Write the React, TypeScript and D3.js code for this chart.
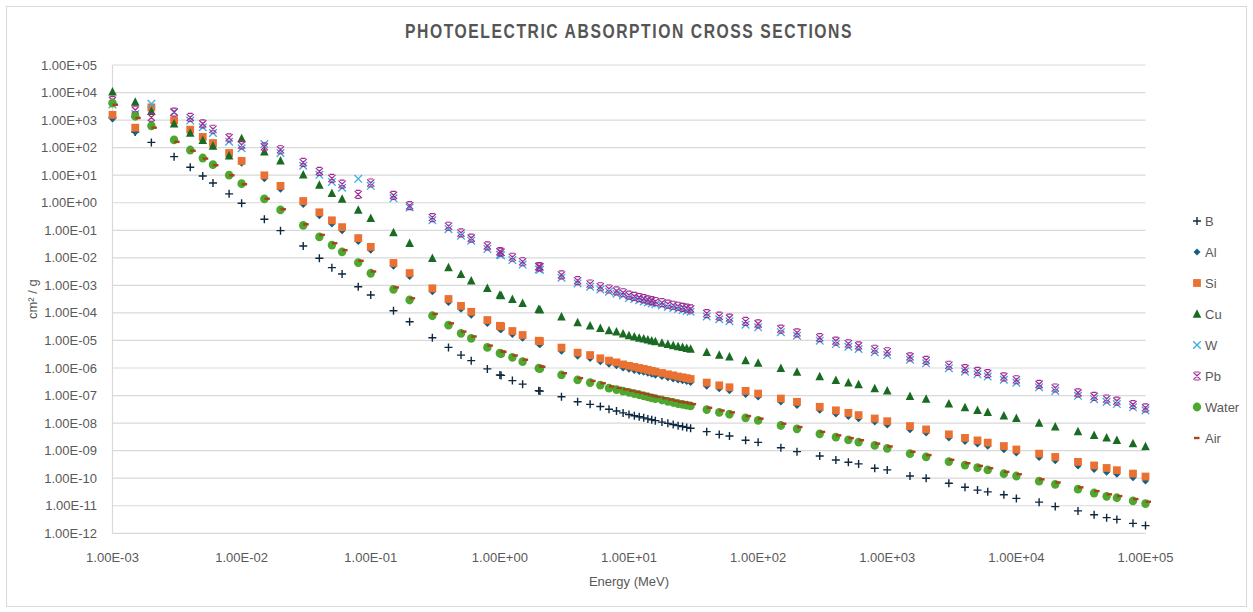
import React from "react";
import * as d3 from "d3";

// photon energy grid (MeV)
const energies = [
  1e-3, 1.5e-3, 2e-3, 3e-3, 4e-3, 5e-3, 6e-3, 8e-3, 1e-2, 1.5e-2,
  2e-2, 3e-2, 4e-2, 5e-2, 6e-2, 8e-2, 0.1, 0.15, 0.2, 0.3,
  0.4, 0.5, 0.6, 0.8, 1, 1.022, 1.25, 1.5, 2, 2.044,
  3, 4, 5, 6, 7, 8, 9, 10, 11, 12,
  13, 14, 15, 16, 18, 20, 22, 24, 26, 28,
  30, 40, 50, 60, 80, 100, 150, 200, 300, 400,
  500, 600, 800, 1000, 1500, 2000, 3000, 4000, 5000, 6000,
  8000, 1e4, 1.5e4, 2e4, 3e4, 4e4, 5e4, 6e4, 8e4, 1e5,
];

// photoelectric cross sections (cm2/g)
const boron = [
  1.22e3, 3.7e2, 1.55e2, 47, 19.5, 9.3, 5.2, 2.1, 0.96, 0.25,
  0.097, 0.027, 9.6e-3, 4.4e-3, 2.6e-3, 8.9e-4, 4.5e-4, 1.2e-4, 4.8e-5, 1.26e-5,
  5.6e-6, 2.95e-6, 1.85e-6, 9.3e-7, 5.6e-7, 5.4e-7, 3.5e-7, 2.6e-7, 1.5e-7, 1.45e-7,
  9.1e-8, 6e-8, 4.8e-8, 4e-8, 3.2e-8, 2.75e-8, 2.35e-8, 2.05e-8, 1.85e-8, 1.7e-8,
  1.55e-8, 1.42e-8, 1.32e-8, 1.23e-8, 1.09e-8, 9.8e-9, 8.9e-9, 8.1e-9, 7.5e-9, 7e-9,
  6.5e-9, 4.9e-9, 3.9e-9, 3.4e-9, 2.4e-9, 2e-9, 1.28e-9, 9.2e-10, 6.4e-10, 4.6e-10,
  3.8e-10, 3.3e-10, 2.3e-10, 2e-10, 1.2e-10, 1e-10, 6.6e-11, 4.7e-11, 3.7e-11, 3.2e-11,
  2.5e-11, 1.85e-11, 1.35e-11, 9.3e-12, 6.5e-12, 4.7e-12, 3.7e-12, 3.2e-12, 2.3e-12, 1.9e-12,
];
const aluminium = [
  1.1e3, 3.6e2, 2.26e3, 7.9e2, 3.6e2, 1.93e2, 1.15e2, 50, 27, 7.5,
  3.1, 0.87, 0.34, 0.17, 0.097, 0.039, 0.019, 4.9e-3, 2.1e-3, 5.9e-4,
  2.4e-4, 1.35e-4, 8.2e-5, 4.1e-5, 2.55e-5, 2.45e-5, 1.65e-5, 1.2e-5, 7.4e-6, 7.0e-6,
  4.1e-6, 2.7e-6, 2.2e-6, 1.7e-6, 1.38e-6, 1.2e-6, 1.0e-6, 9.0e-7, 8.2e-7, 7.5e-7,
  7.0e-7, 6.4e-7, 5.9e-7, 5.5e-7, 4.9e-7, 4.4e-7, 4.0e-7, 3.7e-7, 3.45e-7, 3.25e-7,
  3.0e-7, 2.2e-7, 1.75e-7, 1.5e-7, 1.1e-7, 8.8e-8, 5.8e-8, 4.4e-8, 2.9e-8, 2.15e-8,
  1.75e-8, 1.45e-8, 1.09e-8, 8.6e-9, 5.8e-9, 4.4e-9, 2.9e-9, 2.15e-9, 1.75e-9, 1.45e-9,
  1.09e-9, 8.3e-10, 5.6e-10, 4.3e-10, 2.8e-10, 2.05e-10, 1.65e-10, 1.38e-10, 1.03e-10, 7.9e-11,
];
const silicon = [
  1.55e3, 5.3e2, 2.9e3, 9.8e2, 4.5e2, 2.45e2, 1.47e2, 64, 33, 9.9,
  4.1, 1.15, 0.45, 0.23, 0.13, 0.052, 0.025, 6.5e-3, 2.8e-3, 7.8e-4,
  3.2e-4, 1.8e-4, 1.1e-4, 5.5e-5, 3.4e-5, 3.25e-5, 2.2e-5, 1.58e-5, 9.8e-6, 9.4e-6,
  5.5e-6, 3.6e-6, 2.95e-6, 2.25e-6, 1.85e-6, 1.6e-6, 1.35e-6, 1.2e-6, 1.1e-6, 1.0e-6,
  9.3e-7, 8.5e-7, 7.9e-7, 7.4e-7, 6.6e-7, 5.9e-7, 5.4e-7, 4.9e-7, 4.6e-7, 4.3e-7,
  4.0e-7, 2.95e-7, 2.35e-7, 2.0e-7, 1.48e-7, 1.18e-7, 7.8e-8, 5.9e-8, 3.9e-8, 2.9e-8,
  2.35e-8, 1.95e-8, 1.47e-8, 1.17e-8, 7.8e-9, 5.9e-9, 3.9e-9, 2.9e-9, 2.35e-9, 1.95e-9,
  1.47e-9, 1.1e-9, 7.8e-10, 5.9e-10, 3.9e-10, 2.9e-10, 2.35e-10, 1.95e-10, 1.47e-10, 1.15e-10,
];
const copper = [
  1.07e4, 4.5e3, 2.1e3, 7.4e2, 3.4e2, 1.85e2, 1.15e2, 51, 2.15e2, 71,
  33, 10.3, 4.4, 2.2, 1.35, 0.54, 0.27, 0.082, 0.034, 9.6e-3,
  4.4e-3, 2.5e-3, 1.48e-3, 7.9e-4, 4.5e-4, 4.3e-4, 3.15e-4, 2.25e-4, 1.35e-4, 1.3e-4,
  7.3e-5, 4.45e-5, 3.4e-5, 2.75e-5, 2.3e-5, 2.05e-5, 1.75e-5, 1.5e-5, 1.35e-5, 1.23e-5,
  1.15e-5, 1.05e-5, 9.8e-6, 9.1e-6, 8.1e-6, 7.2e-6, 6.6e-6, 6.0e-6, 5.6e-6, 5.2e-6,
  4.9e-6, 3.7e-6, 2.95e-6, 2.55e-6, 1.85e-6, 1.5e-6, 9.8e-7, 7.2e-7, 4.9e-7, 3.6e-7,
  2.9e-7, 2.5e-7, 1.8e-7, 1.5e-7, 9.5e-8, 7.4e-8, 5e-8, 3.7e-8, 2.9e-8, 2.45e-8,
  1.85e-8, 1.5e-8, 1.0e-8, 7.3e-9, 4.9e-9, 3.6e-9, 2.9e-9, 2.4e-9, 1.8e-9, 1.4e-9,
];
const tungsten = [
  3.7e3, 1.65e3, 3.9e3, 1.95e3, 9.6e2, 5.5e2, 3.4e2, 1.65e2, 95, 1.35e2,
  64, 22, 10.3, 5.7, 3.5, 7.4, 4.1, 1.45, 0.67, 0.23,
  0.11, 0.064, 0.042, 0.021, 0.013, 0.0125, 8.3e-3, 5.7e-3, 3.8e-3, 3.7e-3,
  1.9e-3, 1.18e-3, 8.9e-4, 7.1e-4, 5.9e-4, 5.0e-4, 4.3e-4, 3.5e-4, 3.2e-4, 2.9e-4,
  2.6e-4, 2.4e-4, 2.2e-4, 2.05e-4, 1.85e-4, 1.65e-4, 1.5e-4, 1.38e-4, 1.27e-4, 1.18e-4,
  1.1e-4, 7.4e-5, 5.9e-5, 5.0e-5, 3.75e-5, 3.0e-5, 2.0e-5, 1.48e-5, 9.8e-6, 7.4e-6,
  5.9e-6, 4.9e-6, 3.75e-6, 2.95e-6, 2.0e-6, 1.48e-6, 9.8e-7, 7.4e-7, 5.9e-7, 4.9e-7,
  3.75e-7, 2.95e-7, 2.0e-7, 1.48e-7, 9.8e-8, 7.4e-8, 5.9e-8, 4.9e-8, 3.75e-8, 2.9e-8,
];
const lead = [
  5.2e3, 2.3e3, 1.25e3, 1.95e3, 1.25e3, 7.3e2, 4.65e2, 2.28e2, 1.25e2, 1.07e2,
  84, 29, 13.7, 7.6, 4.7, 2.0, 5.2, 1.85, 0.78, 0.29,
  0.14, 0.08, 0.052, 0.027, 0.0167, 0.016, 0.0105, 7.2e-3, 4.8e-3, 4.7e-3,
  2.4e-3, 1.48e-3, 1.12e-3, 8.9e-4, 7.4e-4, 6.3e-4, 5.4e-4, 4.4e-4, 4.0e-4, 3.6e-4,
  3.3e-4, 3.0e-4, 2.8e-4, 2.6e-4, 2.35e-4, 2.1e-4, 1.9e-4, 1.75e-4, 1.6e-4, 1.5e-4,
  1.4e-4, 9.5e-5, 7.6e-5, 6.5e-5, 4.9e-5, 4.0e-5, 2.6e-5, 1.9e-5, 1.26e-5, 9.5e-6,
  7.6e-6, 6.4e-6, 4.8e-6, 3.9e-6, 2.55e-6, 1.9e-6, 1.26e-6, 9.5e-7, 7.6e-7, 6.3e-7,
  4.8e-7, 3.75e-7, 2.55e-7, 1.88e-7, 1.25e-7, 9.4e-8, 7.5e-8, 6.3e-8, 4.7e-8, 3.6e-8,
];
const water = [
  4.1e3, 1.38e3, 6.2e2, 1.9e2, 82, 42, 24, 10, 4.9, 1.37,
  0.55, 0.15, 0.058, 0.029, 0.0165, 6.7e-3, 2.75e-3, 7.2e-4, 2.95e-4, 7.9e-5,
  3.6e-5, 1.8e-5, 1.2e-5, 5.6e-6, 3.45e-6, 3.3e-6, 2.45e-6, 1.7e-6, 9.8e-7, 9.5e-7,
  5.6e-7, 3.7e-7, 2.95e-7, 2.4e-7, 1.85e-7, 1.65e-7, 1.45e-7, 1.3e-7, 1.17e-7, 1.07e-7,
  9.8e-8, 8.9e-8, 8.3e-8, 7.8e-8, 6.9e-8, 6.2e-8, 5.6e-8, 5.1e-8, 4.8e-8, 4.5e-8,
  4.2e-8, 3.1e-8, 2.45e-8, 2.1e-8, 1.55e-8, 1.25e-8, 8.2e-9, 6.2e-9, 4.1e-9, 3.1e-9,
  2.45e-9, 2.05e-9, 1.55e-9, 1.22e-9, 7.8e-10, 5.9e-10, 4.0e-10, 3.0e-10, 2.4e-10, 2.0e-10,
  1.45e-10, 1.2e-10, 7.8e-11, 6.0e-11, 4.0e-11, 2.9e-11, 2.2e-11, 1.95e-11, 1.5e-11, 1.2e-11,
];
const air = [
  3.6e3, 1.19e3, 5.3e2, 1.62e2, 77, 40, 23, 9.9, 4.7, 1.4,
  0.58, 0.165, 0.068, 0.034, 0.019, 7.8e-3, 3.2e-3, 8.4e-4, 3.4e-4, 9.2e-5,
  4.2e-5, 2.1e-5, 1.4e-5, 6.5e-6, 4.0e-6, 3.85e-6, 2.85e-6, 2.0e-6, 1.14e-6, 1.1e-6,
  6.5e-7, 4.3e-7, 3.4e-7, 2.8e-7, 2.15e-7, 1.9e-7, 1.68e-7, 1.5e-7, 1.36e-7, 1.24e-7,
  1.14e-7, 1.03e-7, 9.6e-8, 9.0e-8, 8.0e-8, 7.2e-8, 6.5e-8, 5.9e-8, 5.6e-8, 5.2e-8,
  4.9e-8, 3.6e-8, 2.85e-8, 2.45e-8, 1.8e-8, 1.45e-8, 9.5e-9, 7.2e-9, 4.8e-9, 3.6e-9,
  2.85e-9, 2.4e-9, 1.8e-9, 1.42e-9, 9.1e-10, 6.9e-10, 4.65e-10, 3.5e-10, 2.8e-10, 2.3e-10,
  1.7e-10, 1.4e-10, 9.1e-11, 7.0e-11, 4.65e-11, 3.4e-11, 2.6e-11, 2.25e-11, 1.75e-11, 1.4e-11,
];

const seriesNames = ["B", "Al", "Si", "Cu", "W", "Pb", "Water", "Air"];
const seriesValues = [boron, aluminium, silicon, copper, tungsten, lead, water, air];

const xTicks = [1e-3, 1e-2, 1e-1, 1, 1e1, 1e2, 1e3, 1e4, 1e5];
const yTicks = d3.range(-12, 6).map((p) => Math.pow(10, p));

// marker look per series
const markerStyle: Record<string, { kind: string; color: string }> = {
  B: { kind: "plus", color: "#0E2841" },
  Al: { kind: "diamond", color: "#156082" },
  Si: { kind: "square", color: "#E97132" },
  Cu: { kind: "triangle", color: "#196B24" },
  W: { kind: "times", color: "#3AAEE0" },
  Pb: { kind: "star", color: "#A02B93" },
  Water: { kind: "circle", color: "#4EA72E" },
  Air: { kind: "dash", color: "#A8441C" },
};

function fmtSci(v: number) {
  const e = Math.round(Math.log10(v));
  const sign = e < 0 ? "-" : "+";
  return `1.00E${sign}${String(Math.abs(e)).padStart(2, "0")}`;
}

function Marker({ kind, color, x, y }: { kind: string; color: string; x: number; y: number }) {
  const t = `translate(${x},${y})`;
  switch (kind) {
    case "plus":
      return <path transform={t} d="M-4,0H4M0,-4V4" stroke={color} strokeWidth={1.4} fill="none" />;
    case "diamond":
      return <path transform={t} d="M0,-3.5L3.5,0L0,3.5L-3.5,0Z" fill={color} />;
    case "square":
      return <rect transform={t} x={-3.9} y={-3.9} width={7.8} height={7.8} fill={color} />;
    case "triangle":
      return <path transform={t} d="M0,-4.8L4.3,3.7H-4.3Z" fill={color} />;
    case "times":
      return <path transform={t} d="M-3.8,-3.8L3.8,3.8M-3.8,3.8L3.8,-3.8" stroke={color} strokeWidth={1.3} fill="none" />;
    case "star":
      return (
        <path
          transform={t}
          d="M-3.6,-3.6L3.6,3.6M-3.6,3.6L3.6,-3.6M-2.4,-4H2.4M-2.4,4H2.4M0,-1.5V1.5"
          stroke={color}
          strokeWidth={1.2}
          fill="none"
        />
      );
    case "circle":
      return <ellipse transform={t} rx={4.2} ry={4.4} fill={color} />;
    case "dash":
      return <rect transform={t} x={0} y={-1.2} width={5.5} height={2.4} fill={color} />;
    default:
      return null;
  }
}

export default function App() {
  const width = 1253;
  const height = 612;
  const left = 112.5;
  const right = 1145.5;
  const top = 65;
  const bottom = 533.3;

  const x = d3.scaleLog().domain([1e-3, 1e5]).range([left, right]);
  const y = d3.scaleLog().domain([1e-12, 1e5]).range([bottom, top]);

  const textColor = "#595959";
  const font = "'Liberation Sans', Arial, sans-serif";

  return (
    <div style={{ position: "absolute", left: 0, top: 0 }}>
      <svg width={width} height={height} style={{ display: "block", background: "#fff" }}>
        <rect x={6.5} y={6.5} width={width - 13} height={height - 12} fill="#fff" stroke="#D9D9D9" />

        <text
          x={629}
          y={38}
          textAnchor="middle"
          fontFamily="'Liberation Sans Narrow', 'Arial Narrow', sans-serif"
          fontWeight="bold"
          fontSize={20}
          letterSpacing={2}
          fill="#555555"
          textLength={448}
          lengthAdjust="spacingAndGlyphs"
        >
          PHOTOELECTRIC ABSORPTION CROSS SECTIONS
        </text>

        {/* horizontal gridlines */}
        {yTicks.map((t) => (
          <line key={t} x1={left} x2={right} y1={y(t)} y2={y(t)} stroke="#D9D9D9" strokeWidth={1.2} />
        ))}
        <line x1={left} x2={left} y1={top} y2={bottom} stroke="#D9D9D9" strokeWidth={1.2} />

        {/* y tick labels */}
        {yTicks.map((t) => (
          <text
            key={t}
            x={97}
            y={y(t)}
            dy="0.35em"
            textAnchor="end"
            fontFamily={font}
            fontSize={13}
            fill={textColor}
          >
            {fmtSci(t)}
          </text>
        ))}

        {/* x tick labels */}
        {xTicks.map((t) => (
          <text key={t} x={x(t)} y={562} textAnchor="middle" fontFamily={font} fontSize={13} fill={textColor}>
            {fmtSci(t)}
          </text>
        ))}

        <text x={629} y={586} textAnchor="middle" fontFamily={font} fontSize={13} fill={textColor}>
          Energy (MeV)
        </text>
        <text
          transform={`translate(37,${(top + bottom) / 2}) rotate(-90)`}
          textAnchor="middle"
          fontFamily={font}
          fontSize={13}
          fill={textColor}
        >
          cm² / g
        </text>

        {/* data points */}
        {seriesNames.map((name, si) => (
          <g key={name}>
            {energies.map((e, i) => (
              <Marker
                key={i}
                kind={markerStyle[name].kind}
                color={markerStyle[name].color}
                x={x(e)}
                y={y(seriesValues[si][i])}
              />
            ))}
          </g>
        ))}

        {/* legend */}
        {seriesNames.map((name, i) => {
          const ly = 221 + i * 31;
          const m = markerStyle[name];
          return (
            <g key={name}>
              <Marker kind={m.kind} color={m.color} x={name === "Air" ? 1194 : 1197} y={ly} />
              <text x={1205} y={ly} dy="0.35em" fontFamily={font} fontSize={13} fill={textColor}>
                {name}
              </text>
            </g>
          );
        })}
      </svg>
    </div>
  );
}
